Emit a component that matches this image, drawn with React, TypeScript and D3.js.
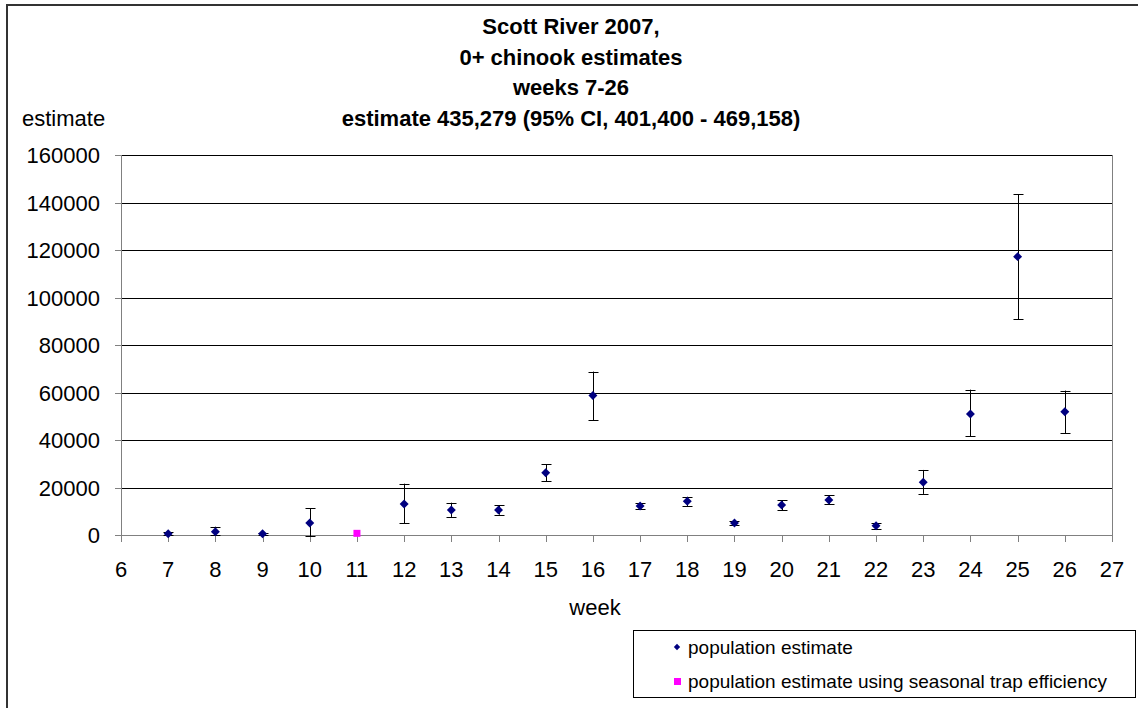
import React from "react";
import * as d3 from "d3";

const weeks = [7, 8, 9, 10, 12, 13, 14, 15, 16, 17, 18, 19, 20, 21, 22, 23, 24, 25, 26];
const estimates = [500, 1400, 500, 5050, 13050, 10500, 10500, 26200, 58700, 12200, 14200, 5050, 12600, 14700, 3900, 22200, 50950, 117200, 51900];
const upper = [1100, 3500, 900, 11200, 21600, 13600, 12600, 29800, 68800, 13600, 16100, 5900, 14700, 16700, 5200, 27400, 61200, 143500, 60800];
const lower = [0, 0, 100, -500, 5050, 7600, 8550, 22700, 48400, 10900, 12200, 4100, 10500, 13050, 2500, 17300, 41550, 90800, 42950];

const seasonalWeeks = [11];
const seasonalEstimates = [700];

const yTicks = [0, 20000, 40000, 60000, 80000, 100000, 120000, 140000, 160000];
const xTicks = d3.range(6, 28);

const titleLines = [
  "Scott River 2007,",
  "0+ chinook estimates",
  "weeks 7-26",
  "estimate 435,279 (95% CI, 401,400 - 469,158)",
];

const W = 1138;
const H = 708;
const FONT = "'Liberation Sans', Arial, sans-serif";

export default function App() {
  const x = d3.scaleLinear().domain([6, 27]).range([121, 1112]);
  const y = d3.scaleLinear().domain([0, 160000]).range([535, 155]);
  const diamond = d3.symbol().type(d3.symbolSquare).size(40)();
  const legendDiamond = d3.symbol().type(d3.symbolSquare).size(20)();
  const py = (v: number) => Math.round(y(v)) + 0.5;
  const px = (v: number) => Math.round(x(v)) + 0.5;

  return (
    <svg
      width={W}
      height={H}
      style={{ position: "absolute", left: 0, top: 0, background: "#fff" }}
      fontFamily={FONT}
    >
      <rect x={0} y={0} width={W} height={H} fill="#fff" />
      <rect x={7} y={5} width={W + 10} height={H + 10} fill="none" stroke="#333" strokeWidth={2} />
      {titleLines.map((t, i) => (
        <text key={i} x={571} y={34 + i * 30.7} textAnchor="middle" fontSize={22} fontWeight="bold">
          {t}
        </text>
      ))}
      <text x={22} y={126} fontSize={22}>estimate</text>

      {/* gridlines */}
      {yTicks.slice(1).map((v) => (
        <line key={v} x1={x(6)} x2={x(27)} y1={py(v)} y2={py(v)} stroke="#000" strokeWidth={1} />
      ))}
      {/* plot border right */}
      <line x1={x(27) + 0.5} x2={x(27) + 0.5} y1={y(160000)} y2={y(0)} stroke="#808080" />
      {/* y axis */}
      <line x1={x(6) + 0.5} x2={x(6) + 0.5} y1={y(160000)} y2={y(0)} stroke="#808080" strokeWidth={1} />
      {yTicks.map((v) => (
        <g key={v}>
          <line x1={x(6) - 6} x2={x(6)} y1={py(v)} y2={py(v)} stroke="#808080" />
          <text x={100} y={y(v) + 8} textAnchor="end" fontSize={22}>{v}</text>
        </g>
      ))}
      {/* x axis */}
      <line x1={x(6)} x2={x(27)} y1={py(0)} y2={py(0)} stroke="#808080" strokeWidth={1} />
      {xTicks.map((v) => (
        <g key={v}>
          <line x1={px(v)} x2={px(v)} y1={y(0)} y2={y(0) + 7} stroke="#808080" />
          <text x={x(v)} y={y(0) + 42} textAnchor="middle" fontSize={22}>{v}</text>
        </g>
      ))}
      <text x={595} y={615} textAnchor="middle" fontSize={22}>week</text>

      {/* error bars */}
      {weeks.map((w, i) => {
        const cx = px(w);
        return (
          <g key={w} stroke="#000" strokeWidth={1}>
            <line x1={cx} x2={cx} y1={y(upper[i])} y2={y(lower[i])} />
            <line x1={cx - 5} x2={cx + 5} y1={py(upper[i])} y2={py(upper[i])} />
            <line x1={cx - 5} x2={cx + 5} y1={py(lower[i])} y2={py(lower[i])} />
          </g>
        );
      })}
      {/* points */}
      {weeks.map((w, i) => (
        <path key={w} d={diamond} transform={`translate(${x(w)},${y(estimates[i])}) rotate(45)`} fill="#000080" />
      ))}
      {seasonalWeeks.map((w, i) => (
        <rect key={w} x={x(w) - 3.5} y={y(seasonalEstimates[i]) - 3.5} width={7} height={7} fill="#ff00ff" />
      ))}

      {/* legend */}
      <rect x={633.5} y={630.5} width={502} height={67} fill="#fff" stroke="#000" />
      <path d={legendDiamond} transform="translate(677,647) rotate(45)" fill="#000080" />
      <text x={688} y={654} fontSize={19}>population estimate</text>
      <rect x={674} y={678} width={7} height={7} fill="#ff00ff" />
      <text x={688} y={688} fontSize={19}>population estimate using seasonal trap efficiency</text>
    </svg>
  );
}
